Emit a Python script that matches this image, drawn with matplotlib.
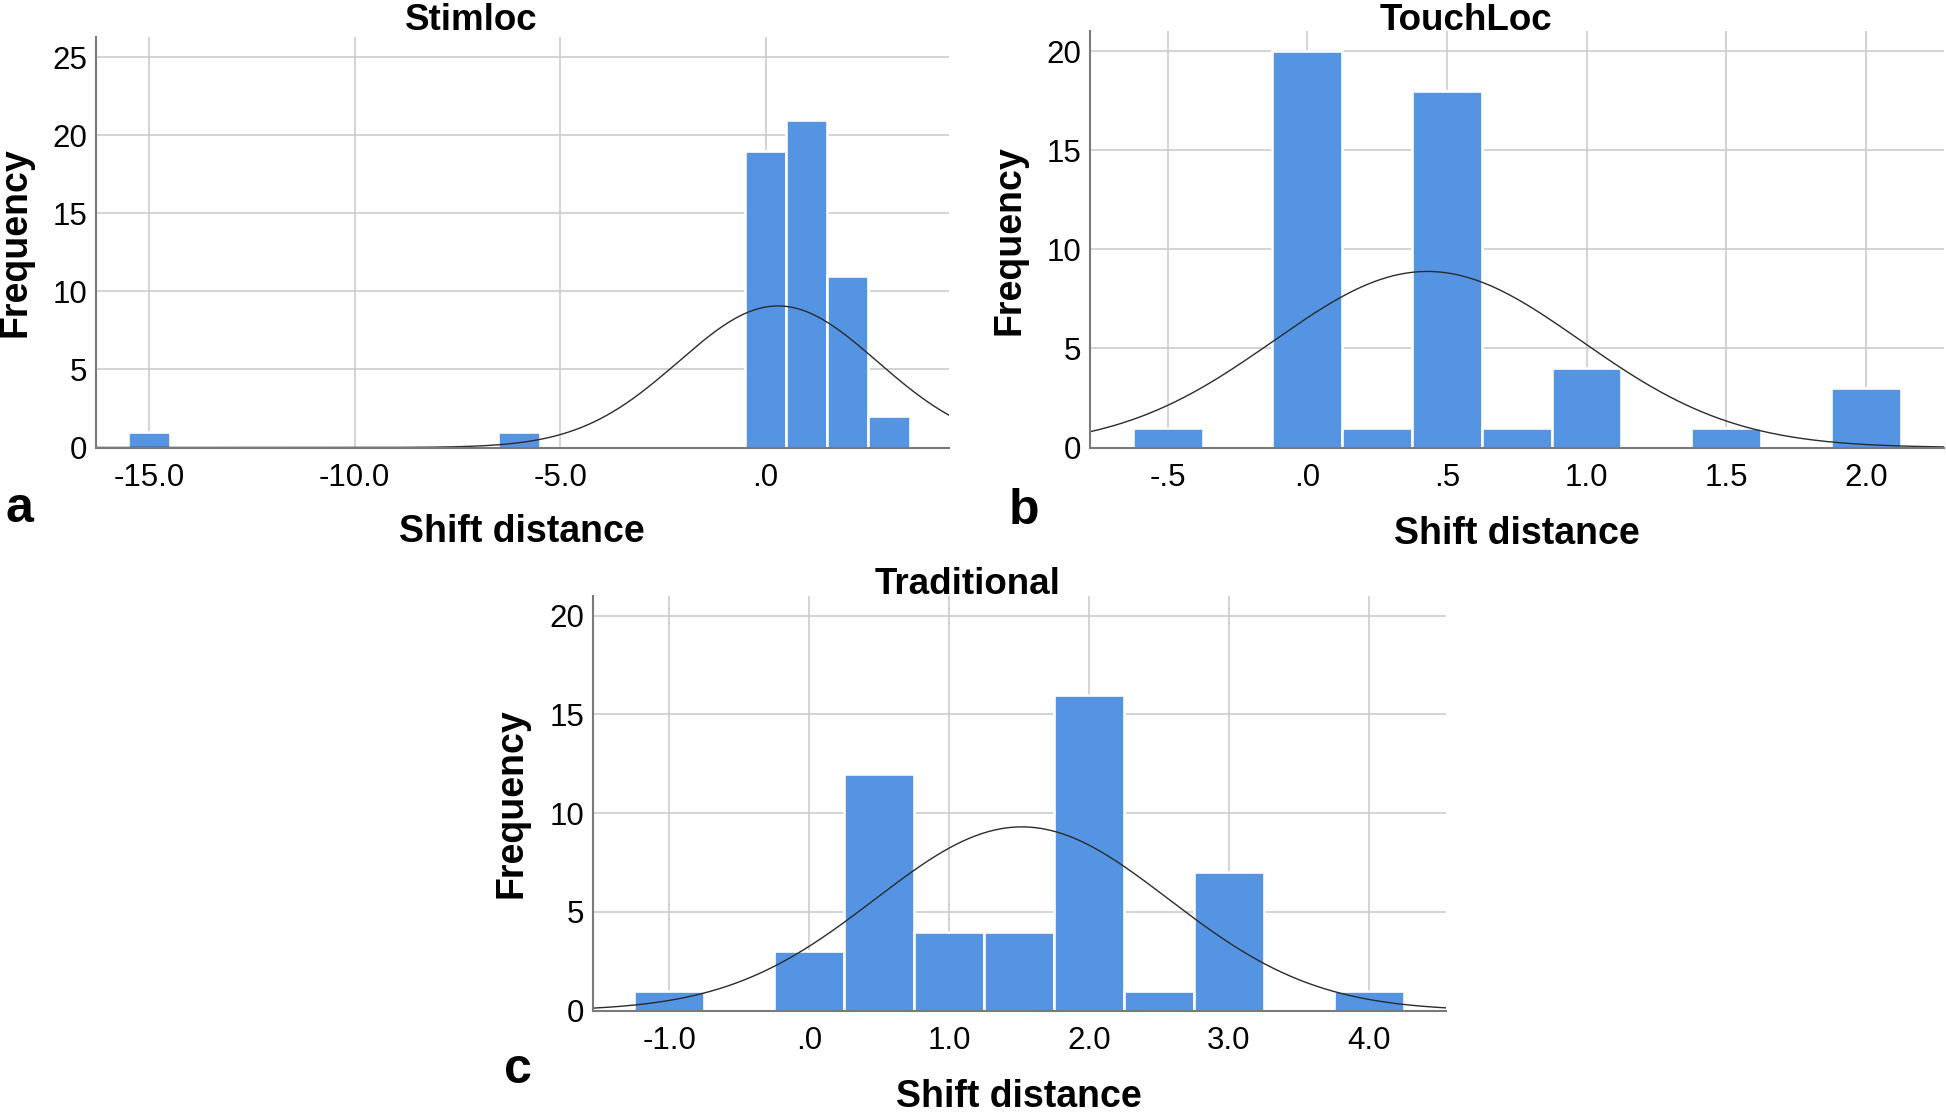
import numpy as np
import matplotlib.pyplot as plt

plt.rcParams['font.family'] = ['Liberation Sans', 'DejaVu Sans']

# Histogram data (bin centres and counts)
stim_centers = [-15, -6, 0, 1, 2, 3]
stim_counts = [1, 1, 19, 21, 11, 2]
stim_binwidth = 1.0
stim_mean, stim_sd = 0.30, 2.42

touch_centers = [-0.5, 0.0, 0.25, 0.5, 0.75, 1.0, 1.5, 2.0]
touch_counts = [1, 20, 1, 18, 1, 4, 1, 3]
touch_binwidth = 0.25
touch_mean, touch_sd = 0.43, 0.55

trad_centers = [-1.0, 0.0, 0.5, 1.0, 1.5, 2.0, 2.5, 3.0, 4.0]
trad_counts = [1, 3, 12, 4, 4, 16, 1, 7, 1]
trad_binwidth = 0.5
trad_mean, trad_sd = 1.52, 1.05

stim_xticks = [-15, -10, -5, 0]
stim_xlabels = ['-15.0', '-10.0', '-5.0', '.0']
touch_xticks = [-0.5, 0, 0.5, 1.0, 1.5, 2.0]
touch_xlabels = ['-.5', '.0', '.5', '1.0', '1.5', '2.0']
trad_xticks = [-1, 0, 1, 2, 3, 4]
trad_xlabels = ['-1.0', '.0', '1.0', '2.0', '3.0', '4.0']

W, H = 1946, 1112
fig = plt.figure(figsize=(W / 100, H / 100), dpi=100)

BAR = '#5594E3'
GRID = '#c9c9c9'


def px_axes(l, t, r, b):
    return fig.add_axes([l / W, 1 - b / H, (r - l) / W, (b - t) / H])


def histo(ax, centers, counts, bw, mean, sd, xlim, ylim, xticks, xlabels, yticks):
    ax.set_xlim(*xlim)
    ax.set_ylim(*ylim)
    ax.set_axisbelow(True)
    ax.grid(True, color=GRID, linewidth=1.1)
    ax.bar(centers, counts, width=bw, color=BAR, edgecolor='white', linewidth=1.9, zorder=2)
    # normal curve overlay (mean/sd)
    n = sum(counts)
    xs = np.linspace(xlim[0], xlim[1], 400)
    ys = n * bw / (sd * np.sqrt(2 * np.pi)) * np.exp(-0.5 * ((xs - mean) / sd) ** 2)
    ax.plot(xs, ys, color='#2b2b2b', linewidth=1.0, zorder=3)
    ax.set_xticks(xticks)
    ax.set_xticklabels(xlabels)
    ax.set_yticks(yticks)
    ax.tick_params(length=0, labelsize=22.5, colors='black', pad=6)
    ax.tick_params(axis='x', pad=11)
    for s in ['top', 'right']:
        ax.spines[s].set_visible(False)
    for s in ['left', 'bottom']:
        ax.spines[s].set_color('#7a7a7a')
        ax.spines[s].set_linewidth(1.5)
        ax.spines[s].set_zorder(4)


ax_a = px_axes(95.6, 36.8, 949, 447.5)
histo(ax_a, stim_centers, stim_counts, stim_binwidth, stim_mean, stim_sd,
      (-16.3, 4.46), (0, 26.3), stim_xticks, stim_xlabels, [0, 5, 10, 15, 20, 25])

ax_b = px_axes(1089.5, 31.4, 1944, 447.5)
histo(ax_b, touch_centers, touch_counts, touch_binwidth, touch_mean, touch_sd,
      (-0.78, 2.28), (0, 21.0), touch_xticks, touch_xlabels, [0, 5, 10, 15, 20])

ax_c = px_axes(592.5, 596, 1445.6, 1010.7)
histo(ax_c, trad_centers, trad_counts, trad_binwidth, trad_mean, trad_sd,
      (-1.55, 4.55), (0, 21.0), trad_xticks, trad_xlabels, [0, 5, 10, 15, 20])


def ftext(x, y, s, va='center', **kw):
    fig.text(x / W, 1 - y / H, s, ha='center', va=va, **kw)


# titles (placed by baseline)
ftext(471, 30, 'Stimloc', va='baseline', fontsize=26.5, fontweight='bold')
ftext(1466, 29.5, 'TouchLoc', va='baseline', fontsize=26.5, fontweight='bold')
ftext(968, 594, 'Traditional', va='baseline', fontsize=26.5, fontweight='bold')

# axis labels
for x, y in [(522, 532), (1517, 534), (1019, 1097)]:
    ftext(x, y, 'Shift distance', fontsize=27, fontweight='bold')
for x, y in [(16, 242), (1010, 240), (512, 803)]:
    ftext(x, y, 'Frequency', fontsize=27, fontweight='bold', rotation=90)

# panel letters
ftext(19, 509, 'a', fontsize=36, fontweight='bold')
ftext(1024, 511, 'b', fontsize=36, fontweight='bold')
ftext(518, 1070, 'c', fontsize=36, fontweight='bold')

fig.savefig('out.png', dpi=100)
